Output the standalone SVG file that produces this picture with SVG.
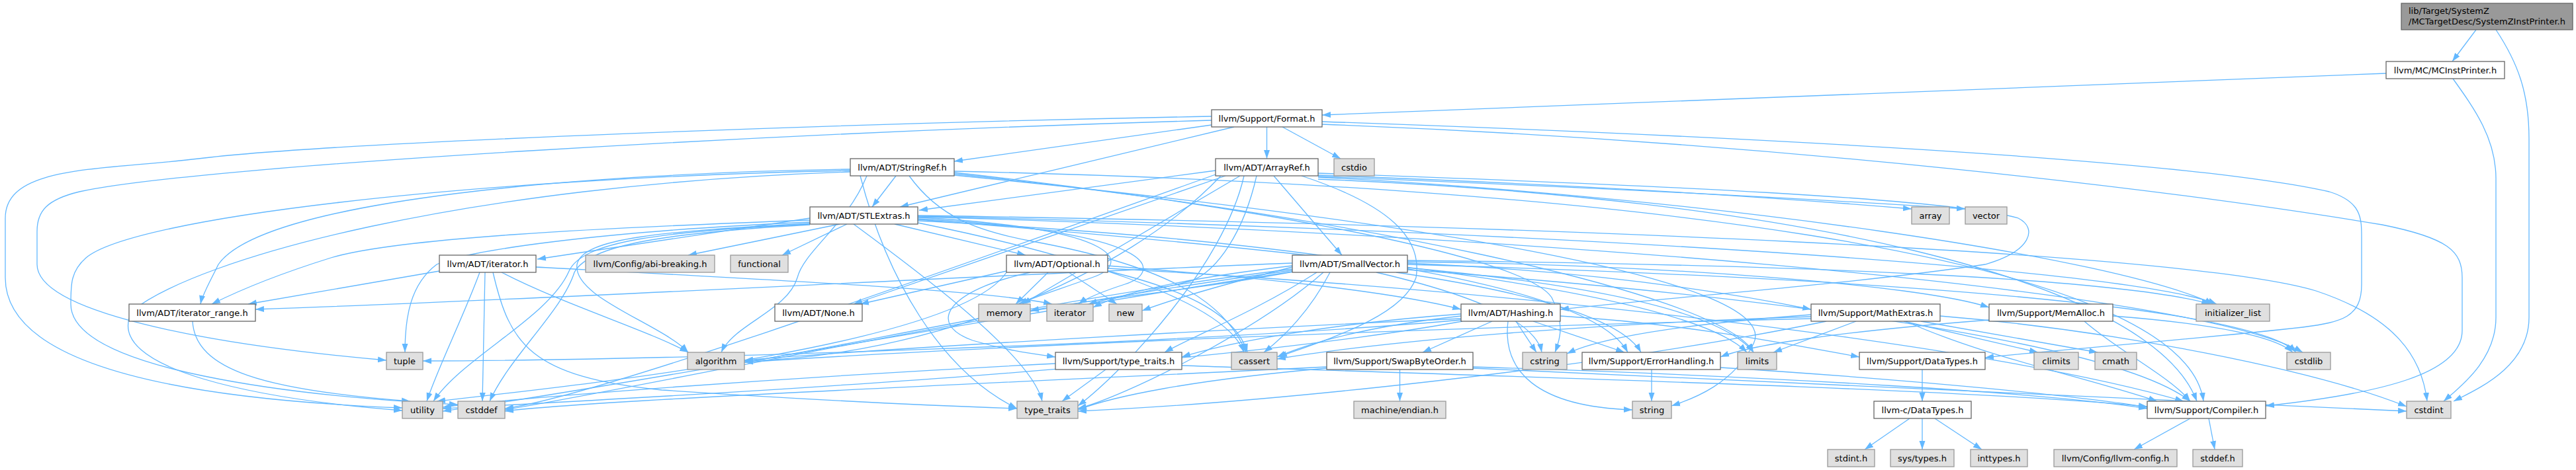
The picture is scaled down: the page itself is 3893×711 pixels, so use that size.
<svg xmlns="http://www.w3.org/2000/svg" width="3893" height="711" viewBox="0 0 3893 711">
<style>
.e{fill:none;stroke:#63B8FF;stroke-width:1.3;marker-end:url(#a)}
.w rect{fill:#ffffff;stroke:#666666;stroke-width:1.3}
.x rect{fill:#E0E0E0;stroke:#999999;stroke-width:1.3}
.r rect{fill:#999999;stroke:#666666;stroke-width:1.3}
text{font-family:"DejaVu Sans","Liberation Sans",sans-serif;font-size:13px;fill:#000000;text-anchor:middle}
.r text{text-anchor:start}
</style>
<defs>
<marker id="a" markerWidth="13" markerHeight="10" refX="13" refY="5" orient="auto" markerUnits="userSpaceOnUse" viewBox="0 0 13 10"><path d="M0,0.5 L13,5 L0,9.5 z" fill="#63B8FF"/></marker>
</defs>
<rect width="3893" height="711" fill="#ffffff"/>
<g id="connectors">
<path class="e" d="M3742,45 L3706,93"/>
<path class="e" d="M3772,45 C3805,95 3822,140 3822,210 L3822,480 C3822,555 3745,588 3708,607"/>
<path class="e" d="M3707,119 C3740,165 3772,210 3772,270 L3772,480 C3772,545 3718,585 3693,607"/>
<path class="e" d="M3606,111 L1998,174"/>
<path class="e" d="M1914.5,192 L1914.5,240"/>
<path class="e" d="M1938,192 L2026,240"/>
<path class="e" d="M1865,192 L1360,313"/>
<path class="e" d="M1831,189 L1442,244"/>
<path class="e" d="M1831,176 C1300,186 500,215 300,240 C150,258 8,250 8,330 L8,420 C8,560 300,605 608,617"/>
<path class="e" d="M1831,182 C1200,200 300,250 120,290 C70,302 56,320 56,350 L56,400 C56,470 300,520 584,545"/>
<path class="e" d="M1998,184 C2600,205 3300,240 3520,290 C3569,305 3569,330 3569,360 L3569,430 C3569,480 3540,487 3480,495 C3300,515 3100,530 3000,541"/>
<path class="e" d="M1998,188 C2700,215 3300,290 3600,340 C3700,360 3721,380 3721,420 L3721,500 C3721,565 3600,595 3424,614"/>
<path class="e" d="M1354,266 L1318,313"/>
<path class="e" d="M1374,266 C1420,330 1480,350 1560,365 C1750,400 1850,450 1883,533"/>
<path class="e" d="M1442,261 C1800,300 2300,380 2345,450 C2365,490 2358,512 2350,533"/>
<path class="e" d="M1442,263 C2000,320 2600,440 2650,533"/>
<path class="e" d="M1442,265 C2100,330 2700,420 2650,520 C2620,580 2560,603 2526,614"/>
<path class="e" d="M1442,259 C2400,280 3300,380 3330,607"/>
<path class="e" d="M1285,256 C900,262 400,300 330,400 C318,425 306,445 303,460"/>
<path class="e" d="M1285,258 C700,270 200,330 130,390 C107,410 107,430 107,460 C107,560 450,600 692,612"/>
<path class="e" d="M1285,260 C700,280 300,390 200,470 C150,560 400,605 608,621"/>
<path class="e" d="M1310,266 C1280,340 1215,380 1205,420 C1190,470 1110,490 1090,533"/>
<path class="e" d="M1300,266 C1340,420 1420,560 1537,618"/>
<path class="e" d="M1925,266 L2028,386"/>
<path class="e" d="M1837,258 L1389,318"/>
<path class="e" d="M1852,266 L1290,460"/>
<path class="e" d="M1874,266 L1545,460"/>
<path class="e" d="M1899,266 C1880,350 1840,410 1800,425 C1720,445 1670,452 1645,460"/>
<path class="e" d="M1967,266 C2100,310 2150,360 2140,420 C2120,480 2000,515 1932,540"/>
<path class="e" d="M1992,262 C2500,280 2950,300 3050,330 C3080,345 3070,380 3000,400 C2800,430 2500,452 2358,468"/>
<path class="e" d="M1992,265 C2400,280 2700,300 2889,316"/>
<path class="e" d="M1992,267 C2450,285 2800,305 2970,316"/>
<path class="e" d="M1992,268 C2600,300 3200,390 3345,460"/>
<path class="e" d="M1992,271 C2700,300 3250,420 3320,607"/>
<path class="e" d="M1845,266 C1700,420 1400,540 1125,546"/>
<path class="e" d="M1837,264 C1400,420 900,600 763,618"/>
<path class="e" d="M1880,266 C1850,400 1700,560 1629,614"/>
<path class="e" d="M1352,339 L1550,386"/>
<path class="e" d="M1224,330 L812,392"/>
<path class="e" d="M1269,339 L1040,386"/>
<path class="e" d="M1280,339 L1182,386"/>
<path class="e" d="M1224,333 C900,345 600,360 500,390 C420,415 360,440 320,460"/>
<path class="e" d="M1224,336 C900,350 700,380 660,400 C620,430 612,480 612,533"/>
<path class="e" d="M1224,339 C1000,350 880,365 860,410 C830,480 700,540 655,607"/>
<path class="e" d="M1224,340 C1010,352 890,370 868,412 C850,470 770,540 740,607"/>
<path class="e" d="M1290,339 C1400,420 1560,540 1575,607"/>
<path class="e" d="M1224,338 C1000,350 880,360 872,400 C865,450 1000,490 1040,533"/>
<path class="e" d="M1387,329 C1700,345 1710,400 1650,420 C1600,438 1560,450 1540,460"/>
<path class="e" d="M1387,331 C1750,350 1760,410 1700,430 C1660,443 1640,452 1630,460"/>
<path class="e" d="M1387,334 C1900,360 2400,420 2460,533"/>
<path class="e" d="M1387,337 C1600,380 1850,450 1880,533"/>
<path class="e" d="M1387,326 C2300,340 3300,380 3500,440 C3620,480 3660,540 3668,607"/>
<path class="e" d="M1387,328 C2200,350 3300,430 3480,533"/>
<path class="e" d="M1387,327 C2200,345 3200,400 3350,460"/>
<path class="e" d="M1387,332 C2000,380 2550,440 2640,533"/>
<path class="e" d="M1584,412 L1535,460"/>
<path class="e" d="M1615,412 L1688,460"/>
<path class="e" d="M1521,410 L1300,460"/>
<path class="e" d="M1557,412 C1430,440 1400,490 1470,515 C1520,530 1560,535 1595,540"/>
<path class="e" d="M1674,402 C1900,420 2100,440 2208,468"/>
<path class="e" d="M1674,406 C2300,440 3000,520 3300,607"/>
<path class="e" d="M1674,410 C1800,440 1870,480 1885,533"/>
<path class="e" d="M1521,412 C1450,520 900,580 660,607"/>
<path class="e" d="M1953,398 C1400,420 900,450 386,468"/>
<path class="e" d="M1953,402 C1800,420 1700,440 1652,465"/>
<path class="e" d="M1953,404 C1850,430 1780,450 1726,470"/>
<path class="e" d="M1960,410 C1800,440 1650,452 1557,470"/>
<path class="e" d="M1990,412 C1900,470 1800,510 1760,533"/>
<path class="e" d="M2010,412 C1980,470 1940,510 1910,533"/>
<path class="e" d="M1953,407 C1600,450 1300,520 1125,548"/>
<path class="e" d="M1953,409 C1500,470 1000,580 763,620"/>
<path class="e" d="M1953,411 C1500,480 900,590 669,622"/>
<path class="e" d="M2000,412 C1900,500 1700,600 1629,618"/>
<path class="e" d="M2080,412 C2200,440 2320,480 2330,533"/>
<path class="e" d="M2110,412 C2300,440 2450,480 2480,533"/>
<path class="e" d="M2127,405 C2400,430 2600,470 2650,533"/>
<path class="e" d="M2127,398 C2400,410 2600,440 2737,468"/>
<path class="e" d="M2127,396 C2500,400 2900,430 3006,465"/>
<path class="e" d="M2127,394 C2700,400 3200,420 3340,460"/>
<path class="e" d="M2127,400 C2800,420 3400,460 3470,533"/>
<path class="e" d="M2127,408 C2700,450 3200,520 3310,607"/>
<path class="e" d="M664,410 L375,460"/>
<path class="e" d="M733,412 L729,607"/>
<path class="e" d="M758,412 C850,460 980,500 1040,533"/>
<path class="e" d="M725,412 C700,480 660,560 645,607"/>
<path class="e" d="M745,412 C770,520 800,570 1000,590 C1300,610 1450,615 1537,618"/>
<path class="e" d="M810,404 C1200,425 1500,440 1590,460"/>
<path class="e" d="M291,486 C295,560 400,590 620,607"/>
<path class="e" d="M2255,486 L2150,533"/>
<path class="e" d="M2291,486 L2322,533"/>
<path class="e" d="M2317,486 L2455,533"/>
<path class="e" d="M2279,486 C2270,560 2320,615 2467,620"/>
<path class="e" d="M2358,478 C2550,490 2700,520 2810,540"/>
<path class="e" d="M2208,478 C2100,490 2000,510 1930,540"/>
<path class="e" d="M2208,475 C2000,490 1850,520 1786,540"/>
<path class="e" d="M2208,482 C1800,500 1300,530 1125,545"/>
<path class="e" d="M2208,484 C1800,520 1000,545 639,546"/>
<path class="e" d="M2210,486 C1800,560 1000,600 669,618"/>
<path class="e" d="M2805,486 L2680,533"/>
<path class="e" d="M2877,486 L3080,533"/>
<path class="e" d="M2903,486 L3170,533"/>
<path class="e" d="M2880,486 C3000,540 3150,570 3260,607"/>
<path class="e" d="M2932,478 C3200,500 3500,560 3637,615"/>
<path class="e" d="M2737,476 C2550,490 2420,510 2368,535"/>
<path class="e" d="M2737,479 C2400,490 2100,515 1930,543"/>
<path class="e" d="M2737,482 C2000,500 1400,530 1125,548"/>
<path class="e" d="M2760,486 C2400,560 1900,610 1629,622"/>
<path class="e" d="M3193,478 C3350,490 3440,510 3465,533"/>
<path class="e" d="M3150,486 C3200,530 3280,570 3310,607"/>
<path class="e" d="M3006,484 C2800,500 2650,520 2600,540"/>
<path class="e" d="M1671,559 L1605,607"/>
<path class="e" d="M1786,553 C2300,570 3000,590 3245,615"/>
<path class="e" d="M1595,550 C1200,570 800,600 669,616"/>
<path class="e" d="M2115.5,559 L2115.5,607"/>
<path class="e" d="M2226,555 C2700,570 3100,595 3245,618"/>
<path class="e" d="M2226,557 C2900,590 3400,610 3637,622"/>
<path class="e" d="M2005,555 C1500,580 900,605 763,622"/>
<path class="e" d="M2005,557 C1800,575 1680,600 1629,620"/>
<path class="e" d="M2496,559 L2496,607"/>
<path class="e" d="M2600,556 C2900,575 3150,600 3245,616"/>
<path class="e" d="M2905,559 L2905,607"/>
<path class="e" d="M2886,633 L2818,680"/>
<path class="e" d="M2905,633 L2905,680"/>
<path class="e" d="M2924,633 L2995,680"/>
<path class="e" d="M3310,633 L3225,680"/>
<path class="e" d="M3338,633 L3347,680"/>
</g>
<g id="n_SystemZInstPrinter" class="r"><rect x="3629" y="5" width="259" height="40"/><text x="3640" y="21">lib/Target/SystemZ</text><text x="3640" y="37">/MCTargetDesc/SystemZInstPrinter.h</text></g>
<g id="n_MCInstPrinter" class="w"><rect x="3606" y="93" width="179" height="26"/><text x="3695.5" y="110.5">llvm/MC/MCInstPrinter.h</text></g>
<g id="n_Format" class="w"><rect x="1831" y="166" width="167" height="26"/><text x="1914.5" y="183.5">llvm/Support/Format.h</text></g>
<g id="n_StringRef" class="w"><rect x="1285" y="240" width="157" height="26"/><text x="1363.5" y="257.5">llvm/ADT/StringRef.h</text></g>
<g id="n_ArrayRef" class="w"><rect x="1837" y="240" width="155" height="26"/><text x="1914.5" y="257.5">llvm/ADT/ArrayRef.h</text></g>
<g id="n_cstdio" class="x"><rect x="2016" y="240" width="61" height="26"/><text x="2046.5" y="257.5">cstdio</text></g>
<g id="n_STLExtras" class="w"><rect x="1224" y="313" width="163" height="26"/><text x="1305.5" y="330.5">llvm/ADT/STLExtras.h</text></g>
<g id="n_array" class="x"><rect x="2889" y="313" width="57" height="26"/><text x="2917.5" y="330.5">array</text></g>
<g id="n_vector" class="x"><rect x="2970" y="313" width="63" height="26"/><text x="3001.5" y="330.5">vector</text></g>
<g id="n_iterator_h" class="w"><rect x="664" y="386" width="146" height="26"/><text x="737" y="403.5">llvm/ADT/iterator.h</text></g>
<g id="n_abi_breaking" class="x"><rect x="885" y="386" width="195" height="26"/><text x="982.5" y="403.5">llvm/Config/abi-breaking.h</text></g>
<g id="n_functional" class="x"><rect x="1104" y="386" width="87" height="26"/><text x="1147.5" y="403.5">functional</text></g>
<g id="n_Optional" class="w"><rect x="1521" y="386" width="153" height="26"/><text x="1597.5" y="403.5">llvm/ADT/Optional.h</text></g>
<g id="n_SmallVector" class="w"><rect x="1953" y="386" width="174" height="26"/><text x="2040" y="403.5">llvm/ADT/SmallVector.h</text></g>
<g id="n_iterator_range" class="w"><rect x="195" y="460" width="191" height="26"/><text x="290.5" y="477.5">llvm/ADT/iterator_range.h</text></g>
<g id="n_None" class="w"><rect x="1171" y="460" width="132" height="26"/><text x="1237" y="477.5">llvm/ADT/None.h</text></g>
<g id="n_memory" class="x"><rect x="1479" y="460" width="78" height="26"/><text x="1518" y="477.5">memory</text></g>
<g id="n_iterator" class="x"><rect x="1582" y="460" width="70" height="26"/><text x="1617" y="477.5">iterator</text></g>
<g id="n_new" class="x"><rect x="1676" y="460" width="50" height="26"/><text x="1701" y="477.5">new</text></g>
<g id="n_Hashing" class="w"><rect x="2208" y="460" width="150" height="26"/><text x="2283" y="477.5">llvm/ADT/Hashing.h</text></g>
<g id="n_MathExtras" class="w"><rect x="2737" y="460" width="195" height="26"/><text x="2834.5" y="477.5">llvm/Support/MathExtras.h</text></g>
<g id="n_MemAlloc" class="w"><rect x="3006" y="460" width="187" height="26"/><text x="3099.5" y="477.5">llvm/Support/MemAlloc.h</text></g>
<g id="n_initializer_list" class="x"><rect x="3319" y="460" width="111" height="26"/><text x="3374.5" y="477.5">initializer_list</text></g>
<g id="n_tuple" class="x"><rect x="584" y="533" width="55" height="26"/><text x="611.5" y="550.5">tuple</text></g>
<g id="n_algorithm" class="x"><rect x="1039" y="533" width="86" height="26"/><text x="1082" y="550.5">algorithm</text></g>
<g id="n_type_traits_h" class="w"><rect x="1595" y="533" width="191" height="26"/><text x="1690.5" y="550.5">llvm/Support/type_traits.h</text></g>
<g id="n_cassert" class="x"><rect x="1861" y="533" width="69" height="26"/><text x="1895.5" y="550.5">cassert</text></g>
<g id="n_SwapByteOrder" class="w"><rect x="2005" y="533" width="221" height="26"/><text x="2115.5" y="550.5">llvm/Support/SwapByteOrder.h</text></g>
<g id="n_cstring" class="x"><rect x="2301" y="533" width="67" height="26"/><text x="2334.5" y="550.5">cstring</text></g>
<g id="n_ErrorHandling" class="w"><rect x="2391" y="533" width="209" height="26"/><text x="2495.5" y="550.5">llvm/Support/ErrorHandling.h</text></g>
<g id="n_limits" class="x"><rect x="2626" y="533" width="59" height="26"/><text x="2655.5" y="550.5">limits</text></g>
<g id="n_DataTypes" class="w"><rect x="2810" y="533" width="190" height="26"/><text x="2905" y="550.5">llvm/Support/DataTypes.h</text></g>
<g id="n_climits" class="x"><rect x="3074" y="533" width="67" height="26"/><text x="3107.5" y="550.5">climits</text></g>
<g id="n_cmath" class="x"><rect x="3166" y="533" width="63" height="26"/><text x="3197.5" y="550.5">cmath</text></g>
<g id="n_cstdlib" class="x"><rect x="3456" y="533" width="66" height="26"/><text x="3489" y="550.5">cstdlib</text></g>
<g id="n_utility" class="x"><rect x="608" y="607" width="61" height="26"/><text x="638.5" y="624.5">utility</text></g>
<g id="n_cstddef" class="x"><rect x="692" y="607" width="71" height="26"/><text x="727.5" y="624.5">cstddef</text></g>
<g id="n_type_traits" class="x"><rect x="1537" y="607" width="92" height="26"/><text x="1583" y="624.5">type_traits</text></g>
<g id="n_machine_endian" class="x"><rect x="2046" y="607" width="139" height="26"/><text x="2115.5" y="624.5">machine/endian.h</text></g>
<g id="n_string" class="x"><rect x="2467" y="607" width="59" height="26"/><text x="2496.5" y="624.5">string</text></g>
<g id="n_c_DataTypes" class="w"><rect x="2832" y="607" width="147" height="26"/><text x="2905.5" y="624.5">llvm-c/DataTypes.h</text></g>
<g id="n_Compiler" class="w"><rect x="3245" y="607" width="179" height="26"/><text x="3334.5" y="624.5">llvm/Support/Compiler.h</text></g>
<g id="n_cstdint" class="x"><rect x="3637" y="607" width="67" height="26"/><text x="3670.5" y="624.5">cstdint</text></g>
<g id="n_stdint" class="x"><rect x="2762" y="680" width="71" height="26"/><text x="2797.5" y="697.5">stdint.h</text></g>
<g id="n_sys_types" class="x"><rect x="2857" y="680" width="96" height="26"/><text x="2905" y="697.5">sys/types.h</text></g>
<g id="n_inttypes" class="x"><rect x="2978" y="680" width="86" height="26"/><text x="3021" y="697.5">inttypes.h</text></g>
<g id="n_llvm_config" class="x"><rect x="3104" y="680" width="186" height="26"/><text x="3197" y="697.5">llvm/Config/llvm-config.h</text></g>
<g id="n_stddef" class="x"><rect x="3314" y="680" width="75" height="26"/><text x="3351.5" y="697.5">stddef.h</text></g>
</svg>
